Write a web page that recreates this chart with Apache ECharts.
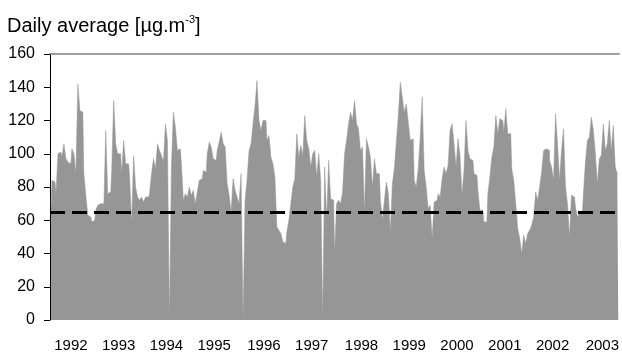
<!DOCTYPE html>
<html>
<head>
<meta charset="utf-8">
<script src="https://cdn.jsdelivr.net/npm/echarts@6/dist/echarts.min.js"></script>
<style>
  html, body { margin: 0; padding: 0; background: #fff; }
  #chart { width: 622px; height: 354px; }
</style>
</head>
<body>
<div id="chart"></div>
<script>
var dailyAvg = [
  68, 84, 83, 76, 100, 101, 98, 106, 97, 95, 94, 103, 100, 88, 142, 126, 125, 88, 75, 63,
  62, 59, 60, 66, 69, 70, 70, 66, 114, 76, 77, 90, 132, 106, 100, 100, 88, 108, 94, 94,
  86, 58, 99, 80, 74, 72, 74, 71, 74, 74, 76, 88, 97, 91, 106,
  102, 99, 95, 118, 108, 0, 92, 125, 116, 102, 103, 94, 72, 76, 74, 80, 75, 78, 70, 77,
  84, 85, 90, 89, 100, 107, 104, 97, 96, 102, 107, 113, 106, 104, 82, 75, 65, 85, 78, 74,
  70, 88, 0, 72, 84, 102, 106, 118, 129, 144, 120, 114, 120, 120, 108, 111, 98, 94, 86, 56,
  54, 52, 47, 46, 53, 60, 70, 80, 85, 112,
  98, 105, 99, 123, 108, 103, 92, 100, 102, 86, 100, 84, 0, 92, 60, 96, 73, 72, 40, 70,
  72, 70, 77, 100, 108, 118, 125, 120, 132, 118, 115, 102, 104, 65, 109, 104, 98, 80, 97, 88,
  88, 72, 60, 72, 83, 76, 53, 82, 91, 107, 123, 143, 134, 125, 130, 119, 108, 109, 84, 80,
  91, 110, 134, 90, 80, 67, 69, 49, 71, 72,
  76, 74, 85, 92, 88, 93, 114, 118, 106, 92, 109, 99, 75, 90, 120, 102, 97, 96, 88, 87,
  78, 66, 66, 59, 59, 76, 86, 98, 104, 123, 112, 121, 120, 113, 127, 112, 112, 91, 84, 70,
  55, 49, 40, 51, 46, 52, 54, 57, 62, 77, 72, 80, 89, 102, 103, 102, 96, 92, 84, 124,
  106, 84, 102, 115, 80, 70, 50, 75, 74, 68, 62, 64, 65, 76, 95, 108, 110, 122, 114, 100,
  82, 97, 99, 118, 102, 106, 120, 102, 117, 92, 88
];
var yearLabels = ["1992", "1993", "1994", "1995", "1996", "1997", "1998", "1999", "2000", "2001", "2002", "2003"];
var yearIndex = [10, 34, 58, 82, 107, 131, 156, 180, 204, 228, 252, 277];
var limitValue = 65;

var categories = dailyAvg.map(function (v, i) { return String(i); });

var myChart = echarts.init(document.getElementById("chart"));
myChart.setOption({
  animation: false,
  title: {
    text: "{a|Daily average [µg.m}{s|-3}{a|]}",
    left: 7,
    top: 14,
    padding: 0,
    textStyle: {
      rich: {
        a: { fontSize: 20, lineHeight: 24, fontWeight: "normal", color: "#000", fontFamily: "Liberation Sans, Arial, sans-serif" },
        s: { fontSize: 11, lineHeight: 12, fontWeight: "normal", verticalAlign: "top", color: "#000", fontFamily: "Liberation Sans, Arial, sans-serif" }
      }
    }
  },
  grid: { left: 50, right: 0, top: 54, bottom: 34 },
  xAxis: [
    {
      type: "category",
      data: categories,
      axisLine: { show: false },
      axisTick: { show: false },
      axisLabel: {
        interval: function (i) { return yearIndex.indexOf(i) >= 0; },
        formatter: function (v, i) { return yearLabels[yearIndex.indexOf(i)]; },
        color: "#000",
        fontSize: 15,
        fontFamily: "Liberation Sans Narrow, Arial Narrow, Liberation Sans, sans-serif",
        margin: 18
      },
      splitLine: { show: false }
    },
    {
      // top border of the plot
      type: "category",
      position: "top",
      data: categories,
      axisLine: { show: true, lineStyle: { color: "#808080", width: 1.5 } },
      axisTick: { show: false },
      axisLabel: { show: false }
    }
  ],
  yAxis: {
    type: "value",
    min: 0,
    max: 160,
    interval: 20,
    axisLine: { show: true, lineStyle: { color: "#000", width: 1 } },
    axisTick: { show: true, length: 6, lineStyle: { color: "#000" } },
    axisLabel: { color: "#000", fontSize: 16, fontFamily: "Liberation Sans, Arial, sans-serif", margin: 15 },
    splitLine: { show: false }
  },
  series: [
    {
      name: "Daily average",
      type: "line",
      step: "middle",
      data: dailyAvg,
      showSymbol: false,
      lineStyle: { width: 0.5, color: "#969696" },
      areaStyle: { color: "#969696", opacity: 1 },
      markLine: {
        silent: true,
        symbol: ["none", "none"],
        label: { show: false },
        lineStyle: { color: "#000", width: 3, type: [15, 7] },
        data: [{ yAxis: limitValue }]
      }
    }
  ]
});
</script>
</body>
</html>
